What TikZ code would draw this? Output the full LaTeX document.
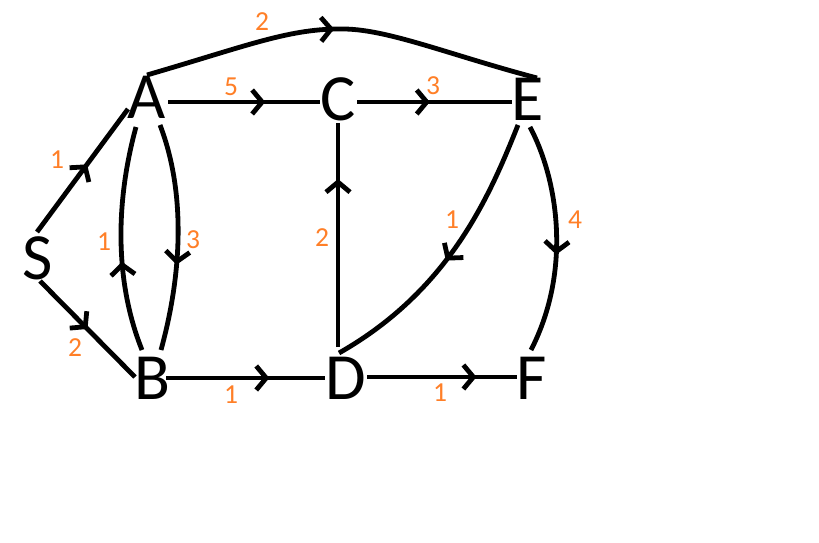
\documentclass[tikz,border=0pt]{standalone}
\usepackage{fontspec}
\setmainfont{Carlito}
\usetikzlibrary{arrows.meta,decorations.markings}
\definecolor{lblorange}{RGB}{255,127,39}
\tikzset{
  vtx/.style={inner sep=0pt, outer sep=0pt, font=\fontsize{66}{66}\selectfont},
  wlbl/.style={inner sep=0pt, outer sep=0pt, text=lblorange, font=\fontsize{27.5}{27.5}\selectfont},
  edge/.style={line width=4.8pt, black},
  midarrow/.style={postaction={decorate, decoration={markings,
      mark=at position #1 with {\arrow{Straight Barb[length=10pt,width=24pt]}}}}}
}
\begin{document}
\begin{tikzpicture}[x=1pt,y=-1pt]
\fill[white] (0,0) rectangle (819,543);
\useasboundingbox (0,0) rectangle (819,543);

% vertices
\node[vtx] (S) at (38,258) {S};
\node[vtx] (A) at (147,97) {A};
\node[vtx] (B) at (152,378) {B};
\node[vtx] (C) at (338,99) {C};
\node[vtx] (D) at (346,378) {D};
\node[vtx] (E) at (528,99) {E};
\node[vtx] (F) at (532,378) {F};
\coordinate (top) at (345,29);

% edges
\draw[edge, midarrow=0.55] ([shift={(-1,-26)}]S.center) -- ([shift={(-19,12)}]A.center);
\draw[edge, midarrow=0.5] ([shift={(2,23)}]S.center) -- ([shift={(-17,-1)}]B.center);
\draw[edge, midarrow=0.4] ([shift={(-10,-28)}]B.center) .. controls +(-28,-70) and +(-20,73) .. ([shift={(-11,30)}]A.center);
\draw[edge, midarrow=0.62] ([shift={(13,28)}]A.center) .. controls +(25,65) and +(22,-80) .. ([shift={(9,-28)}]B.center);
\draw[edge, midarrow=0.64] ([shift={(21,5)}]A.center) -- ([shift={(-18,3)}]C.center);
\draw[edge, midarrow=0.65] ([shift={(14,0)}]B.center) -- ([shift={(-21,0)}]D.center);
\draw[edge, midarrow=0.48] ([shift={(0,-22)}]A.center) .. controls +(103,-30) and +(-55,-1) .. (top)
   .. controls +(45,1) and +(-87,-23) .. ([shift={(9,-21)}]E.center);
\draw[edge, midarrow=0.47] ([shift={(19,3)}]C.center) -- ([shift={(-16,3)}]E.center);
\draw[edge, midarrow=0.75] ([shift={(-8,-31)}]D.center) -- ([shift={(0,24)}]C.center);
\draw[edge, midarrow=0.52] ([shift={(-10,26)}]E.center) .. controls +(-28,70) and +(111,-63) .. ([shift={(-7,-25)}]D.center);
\draw[edge, midarrow=0.57] ([shift={(2,28)}]E.center) .. controls +(28,53) and +(41,-80) .. ([shift={(-1,-28)}]F.center);
\draw[edge, midarrow=0.73] ([shift={(21,-1)}]D.center) -- ([shift={(-15,-1)}]F.center);

% weights
\node[wlbl] (wAE) at (262,22) {2};
\node[wlbl] (wAC) at (231,87) {5};
\node[wlbl] (wCE) at (433,86) {3};
\node[wlbl] (wSA) at (57,160) {1};
\node[wlbl] (wBA) at (104,242) {1};
\node[wlbl] (wAB) at (193,240) {3};
\node[wlbl] (wSB) at (75,348) {2};
\node[wlbl] (wBD) at (231,395) {1};
\node[wlbl] (wDC) at (322,238) {2};
\node[wlbl] (wED) at (452,220) {1};
\node[wlbl] (wEF) at (575,220) {4};
\node[wlbl] (wDF) at (440,393) {1};
\end{tikzpicture}
\end{document}
